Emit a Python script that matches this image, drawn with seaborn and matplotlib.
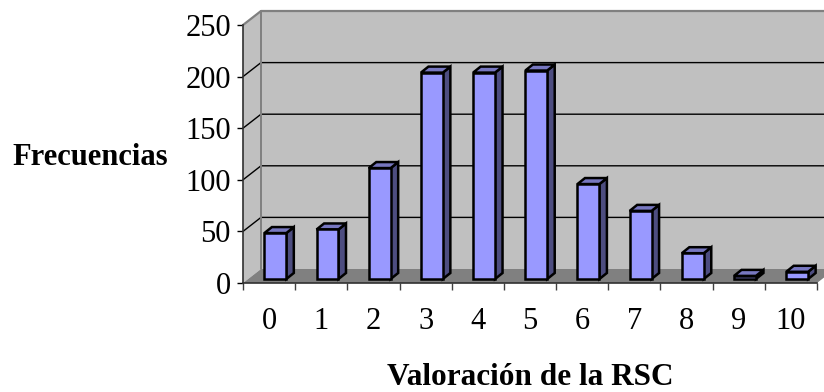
import seaborn as sns
import matplotlib.pyplot as plt
import pandas as pd
from matplotlib.patches import Polygon

# Values
categories = ['0', '1', '2', '3', '4', '5', '6', '7', '8', '9', '10']
frecuencias = [44.5, 48, 107.5, 200, 200, 202, 92, 66, 25, 3, 7]
y_ticks = [0, 50, 100, 150, 200, 250]

df = pd.DataFrame({'valoracion': categories, 'frecuencia': frecuencias})

sns.set_style('white')
plt.rcParams['font.family'] = ['Liberation Serif', 'DejaVu Serif']
plt.rcParams['text.color'] = 'black'
plt.rcParams['xtick.color'] = 'black'
plt.rcParams['ytick.color'] = 'black'

W, H = 824, 392
fig = plt.figure(figsize=(W / 100, H / 100), dpi=100)
ax = fig.add_axes([243 / W, (H - 283) / H, 574 / W, 258 / H])

# pixel sizes turned into data units
px_x = 11 / 574
px_y = 250 / 258
wall_dx, wall_dy = 18 * px_x, 14 * px_y
bar_dx, bar_dy = 7.5 * px_x, 6 * px_y
x0, x1 = -0.5, 10.5


def poly(ax, pts, color, edge='none', lw=0, z=1):
    ax.add_patch(Polygon(pts, closed=True, facecolor=color, edgecolor=edge,
                         linewidth=lw, zorder=z, clip_on=False))


# walls and floor
poly(ax, [(x0, 0), (x0 + wall_dx, wall_dy), (x0 + wall_dx, 250 + wall_dy), (x0, 250)], '#c0c0c0')
poly(ax, [(x0 + wall_dx, wall_dy), (x1 + wall_dx, wall_dy), (x1 + wall_dx, 250 + wall_dy),
          (x0 + wall_dx, 250 + wall_dy)], '#c0c0c0')
poly(ax, [(x0, 0), (x1, 0), (x1 + wall_dx, wall_dy), (x0 + wall_dx, wall_dy)], '#808080')

# grid lines run along the back wall and down the left wall
for t in y_ticks[1:-1]:
    ax.plot([x0, x0 + wall_dx, x1 + wall_dx], [t, t + wall_dy, t + wall_dy],
            color='black', lw=1, zorder=2, clip_on=False)
ax.plot([x0, x0 + wall_dx, x1 + wall_dx], [250, 250 + wall_dy, 250 + wall_dy],
        color='#808080', lw=1.6, zorder=2, clip_on=False)
ax.plot([x0 + wall_dx, x0 + wall_dx], [wall_dy, 250 + wall_dy],
        color='#808080', lw=1.4, zorder=2, clip_on=False)

# front faces come from seaborn, then get the box side and top
sns.barplot(data=df, x='valoracion', y='frecuencia', color='#9999ff', saturation=1,
            width=0.42, bottom=4 * px_y, edgecolor='black', linewidth=1.8,
            zorder=4, ax=ax)
for p in ax.patches:
    if not hasattr(p, 'get_width'):
        continue
    p.set_x(p.get_x() + 0.12)
    l, r = p.get_x(), p.get_x() + p.get_width()
    b, t = p.get_y(), p.get_y() + p.get_height()
    poly(ax, [(r, b), (r + bar_dx, b + bar_dy), (r + bar_dx, t + bar_dy), (r, t)],
         '#4d4d80', 'black', 1.8, 3)
    poly(ax, [(l, t), (l + bar_dx, t + bar_dy), (r + bar_dx, t + bar_dy), (r, t)],
         '#7777c0', 'black', 1.8, 3)

ax.set_xlim(x0, x1)
ax.set_ylim(0, 250)
ax.set_yticks(y_ticks)
ax.set_xticks([i - 0.5 for i in range(12)], minor=False)
ax.set_xticklabels([])
ax.set_xticks(range(11), categories, minor=True)
ax.tick_params(axis='x', which='major', bottom=True, length=5, width=1, color='#404040')
ax.tick_params(axis='x', which='minor', bottom=False, pad=15, labelsize=22)
ax.tick_params(axis='y', left=True, length=4.5, width=1, color='black', labelsize=22, pad=4.3)
ax.patch.set_visible(False)
ax.set_xlabel('')
ax.set_ylabel('')

sns.despine(ax=ax, top=True, right=True)
for s in ['left', 'bottom']:
    ax.spines[s].set_color('#303030')
    ax.spines[s].set_linewidth(1.2)
    ax.spines[s].set_zorder(5)

fig.text(90 / W, 1 - 165 / H, 'Frecuencias', ha='center', va='baseline',
         fontsize=22, fontweight='bold')
fig.text(530 / W, 1 - 385 / H, 'Valoración de la RSC', ha='center', va='baseline',
         fontsize=22.5, fontweight='bold')

fig.savefig('out.png', dpi=100)
